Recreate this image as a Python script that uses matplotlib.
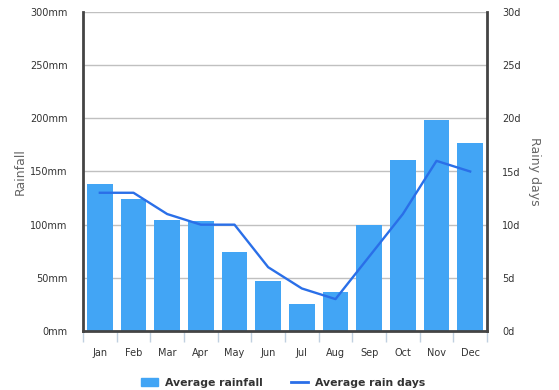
import matplotlib.pyplot as plt
from matplotlib.lines import Line2D
from matplotlib.patches import Patch

months = ['Jan', 'Feb', 'Mar', 'Apr', 'May', 'Jun', 'Jul', 'Aug', 'Sep', 'Oct', 'Nov', 'Dec']
rainfall = [138, 124, 104, 103, 74, 47, 25, 37, 100, 161, 198, 177]
rain_days = [13, 13, 11, 10, 10, 6, 4, 3, 7, 11, 16, 15]

bar_color = '#42a5f5'
line_color = '#2a6fe8'

fig = plt.figure(figsize=(5.59, 3.9), dpi=100)
ax = fig.add_axes([83 / 559, 59 / 390, 404 / 559, 319 / 390])
ax2 = ax.twinx()

x = range(len(months))
ax.bar(x, rainfall, width=0.77, color=bar_color, zorder=2)
ax2.plot(x, rain_days, color=line_color, lw=1.7, zorder=3)

ax.set_xlim(-0.5, 11.5)
ax.set_ylim(0, 300)
ax2.set_ylim(0, 30)
ax.set_yticks(range(0, 301, 50))
ax.set_yticklabels([f'{v}mm' for v in range(0, 301, 50)])
ax2.set_yticks(range(0, 31, 5))
ax2.set_yticklabels([f'{v}d' for v in range(0, 31, 5)])
ax.yaxis.grid(True, color='#c0c0c0', lw=1, zorder=0)
ax.set_axisbelow(True)

ax.set_xticks(list(x))
ax.set_xticklabels(months)
ax.set_xticks([i - 0.5 for i in range(13)], minor=True)
ax.tick_params(axis='x', which='major', length=0, pad=12, labelsize=7, labelcolor='#333333')
ax.tick_params(axis='x', which='minor', length=8, color='#c0d0e0', width=1)
ax.tick_params(axis='y', length=0, pad=11, labelsize=7, labelcolor='#333333')
ax2.tick_params(axis='y', length=0, pad=11, labelsize=7, labelcolor='#333333')

for a in (ax, ax2):
    a.spines['top'].set_visible(False)
    for s in ('left', 'right', 'bottom'):
        a.spines[s].set_color('#444444')
        a.spines[s].set_linewidth(2)
ax.spines['right'].set_visible(False)
ax2.spines['left'].set_visible(False)
ax2.spines['bottom'].set_visible(False)

ax.set_ylabel('Rainfall', color='#666666', fontsize=9, va='center')
ax.yaxis.set_label_coords((20 - 83) / 404, 0.5)
ax2.set_ylabel('Rainy days', color='#666666', fontsize=9, rotation=270, va='center')
ax2.yaxis.set_label_coords((534 - 83) / 404, 0.5)

handles = [Patch(color=bar_color, label='Average rainfall'),
           Line2D([0], [0], color=line_color, lw=2, label='Average rain days')]
fig.legend(handles=handles, loc='center', bbox_to_anchor=(283 / 559, 1 - 383 / 390), ncol=2,
           frameon=False, handlelength=1.6, columnspacing=2.6, handletextpad=0.6,
           prop={'weight': 'bold', 'size': 7.8})
for t in fig.legends[0].get_texts():
    t.set_color('#333333')

fig.savefig('out.png', dpi=100)
